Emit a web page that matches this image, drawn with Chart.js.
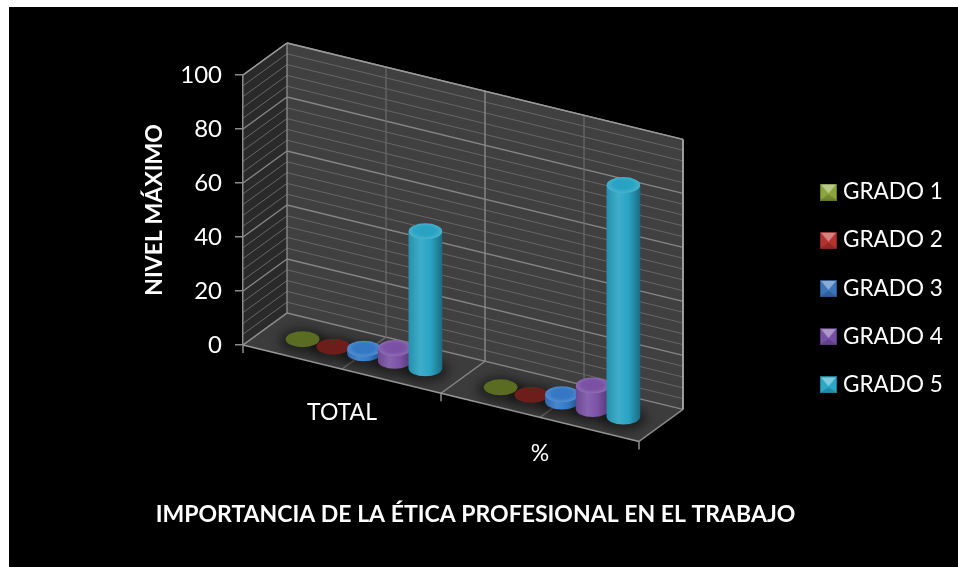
<!DOCTYPE html>
<html>
<head>
<meta charset="utf-8">
<title>Importancia de la ética profesional</title>
<script src="https://cdn.jsdelivr.net/npm/chart.js@4/dist/chart.umd.min.js"></script>
<style>
    html, body { margin: 0; padding: 0; background: #fff; }
    canvas { display: block; }
</style>
</head>
<body>
<canvas id="chart" width="958" height="567"></canvas>
<script>
const categories = ["TOTAL", "%"];
const seriesNames = ["GRADO 1", "GRADO 2", "GRADO 3", "GRADO 4", "GRADO 5"];
const grado1 = [0, 0];
const grado2 = [0, 0];
const grado3 = [2, 3];
const grado4 = [5, 9];
const grado5 = [51, 86];
const seriesValues = [grado1, grado2, grado3, grado4, grado5];
const seriesColors = ["#5a6b22", "#6e1e1a", "#3579c6", "#7b52a6", "#2aa4c4"];
const legendColors = ["#8ba63c", "#b5322e", "#3a74ba", "#7650a4", "#2aa8c8"];
const yTicks = [0, 20, 40, 60, 80, 100];
const xTitle = "IMPORTANCIA DE LA ÉTICA PROFESIONAL EN EL TRABAJO";
const yTitle = "NIVEL MÁXIMO";

// fake 3D: floor runs downhill to the right, walls sit behind by a fixed depth
const slope = 0.2435;
const depthX = 44;
const depthY = -32;
const font = "Lato";

function shade(hex, f) {
    const n = parseInt(hex.slice(1), 16);
    const c = [n >> 16, (n >> 8) & 255, n & 255].map(v => {
        const out = f < 1 ? v * f : v + (255 - v) * (f - 1);
        return Math.round(out);
    });
    return "rgb(" + c.join(",") + ")";
}

// front plane pixel plus depth (0 front, 1 back wall) to screen
function project(chart, x, y, d) {
    const left = chart.chartArea.left;
    return [x + depthX * d, y + slope * (x - left) + depthY * d];
}

function poly(ctx, pts, fill) {
    ctx.beginPath();
    pts.forEach((p, i) => i ? ctx.lineTo(p[0], p[1]) : ctx.moveTo(p[0], p[1]));
    ctx.closePath();
    ctx.fillStyle = fill;
    ctx.fill();
}

function line(ctx, a, b, color, w) {
    ctx.beginPath();
    ctx.moveTo(a[0], a[1]);
    ctx.lineTo(b[0], b[1]);
    ctx.strokeStyle = color;
    ctx.lineWidth = w;
    ctx.stroke();
}

function drawWalls(chart) {
    const ctx = chart.ctx;
    const a = chart.chartArea;
    const y = chart.scales.y;
    const x = chart.scales.x;
    const P = (px, py, d) => project(chart, px, py, d);
    const top = a.top, bot = a.bottom, l = a.left, r = a.right;

    poly(ctx, [P(l, top, 0), P(l, top, 1), P(l, bot, 1), P(l, bot, 0)], "#2a2a2a");
    poly(ctx, [P(l, top, 1), P(r, top, 1), P(r, bot, 1), P(l, bot, 1)], "#404040");
    poly(ctx, [P(l, bot, 0), P(r, bot, 0), P(r, bot, 1), P(l, bot, 1)], "#3c3c3c");

    for (let v = 0; v <= 100; v += 4) {
        const py = y.getPixelForValue(v);
        const major = v % 20 === 0;
        const c = major ? "#858585" : "#666666";
        line(ctx, P(l, py, 0), P(l, py, 1), c, major ? 1.4 : 1);
        line(ctx, P(l, py, 1), P(r, py, 1), c, major ? 1.4 : 1);
    }

    // category borders are bright, category centres dim
    const step = (r - l) / categories.length;
    for (let i = 0; i <= categories.length * 2; i++) {
        const px = l + i * step / 2;
        const major = i % 2 === 0;
        const c = major ? "#888888" : "#6a6a6a";
        line(ctx, P(px, top, 1), P(px, bot, 1), c, major ? 1.4 : 1.2);
        line(ctx, P(px, bot, 0), P(px, bot, 1), c, 1.4);
        if (major) {
            const f = P(px, bot, 0);
            line(ctx, f, [f[0], f[1] + 8], "#999999", 1.4);
        }
    }
    line(ctx, P(l, bot, 0), P(r, bot, 0), "#999999", 1.6);
    line(ctx, P(l, top, 0), P(l, top, 1), "#999999", 1.4);
    line(ctx, P(l, top, 1), P(r, top, 1), "#999999", 1.4);
    line(ctx, P(r, top, 1), P(r, bot, 1), "#aaaaaa", 1.6);

    ctx.fillStyle = "#ffffff";
    ctx.textAlign = "center";
    ctx.textBaseline = "middle";
    ctx.font = "23px " + font;
    categories.forEach((c, i) => {
        ctx.fillText(c, x.getPixelForValue(i), bot + 68 + i * 41);
    });
    ctx.font = "bold 23px " + font;
    ctx.fillText(xTitle, 475.5, 515);
}

function drawFloorShadow(ctx, cx, cy, rx, ry) {
    ctx.save();
    ctx.filter = "blur(5px)";
    ctx.fillStyle = "rgba(0,0,0,0.42)";
    ctx.beginPath();
    ctx.ellipse(cx, cy + 2, rx + 7, ry + 5, 0, 0, Math.PI * 2);
    ctx.fill();
    ctx.restore();
}

function drawCylinder(ctx, cx, baseY, topY, rx, ry, color) {
    const h = baseY - topY;
    if (h < 1) {
        ctx.beginPath();
        ctx.ellipse(cx, baseY, rx, ry, 0, 0, Math.PI * 2);
        ctx.fillStyle = color;
        ctx.fill();
        return;
    }
    const g = ctx.createLinearGradient(cx - rx, 0, cx + rx, 0);
    g.addColorStop(0, shade(color, 0.88));
    g.addColorStop(0.35, shade(color, 1.1));
    g.addColorStop(0.65, color);
    g.addColorStop(1, shade(color, 0.66));
    ctx.beginPath();
    ctx.moveTo(cx - rx, topY);
    ctx.lineTo(cx - rx, baseY);
    ctx.ellipse(cx, baseY, rx, ry, 0, Math.PI, 0, true);
    ctx.lineTo(cx + rx, topY);
    ctx.closePath();
    ctx.fillStyle = g;
    ctx.fill();

    // soft bevel on the lid, brighter towards the rim
    const t = ctx.createRadialGradient(cx, topY - 1, 0, cx, topY - 1, rx);
    t.addColorStop(0, shade(color, 0.98));
    t.addColorStop(0.6, shade(color, 1.0));
    t.addColorStop(1, shade(color, 1.14));
    ctx.save();
    ctx.beginPath();
    ctx.ellipse(cx, topY, rx, ry, 0, 0, Math.PI * 2);
    ctx.clip();
    ctx.translate(0, topY);
    ctx.scale(1, ry / rx);
    ctx.translate(0, -topY);
    ctx.fillStyle = t;
    ctx.fillRect(cx - rx, topY - rx * 1.2, rx * 2, rx * 2.4);
    ctx.restore();
}

const cylinders = {
    id: "cylinders",
    beforeDraw(chart) {
        const ctx = chart.ctx;
        ctx.save();
        ctx.fillStyle = "#000000";
        ctx.fillRect(9, 7, 949, 560);
        drawWalls(chart);
        ctx.restore();
    },
    afterLayout(chart) {
        // put the legend block to the right of the plot
        const lg = chart.legend;
        const pad = lg.options.labels.padding;
        lg.left = 825.25 - pad;
        lg.top = 192 - pad - lg.options.labels.font.size / 2;
        lg.right = lg.left + lg.width;
        lg.bottom = lg.top + lg.height;
    },
    beforeDatasetsDraw(chart) {
        const ctx = chart.ctx;
        ctx.save();
        const metas = seriesValues.map((s, i) => chart.getDatasetMeta(i));
        categories.forEach((c, ci) => {
            const marks = metas.map((m, i) => {
                const el = m.data[ci];
                const rx = el.width * 0.55;
                const p = project(chart, el.x, el.base, 0.5);
                const baseY = p[1] + 1;
                return { cx: p[0], baseY: baseY, topY: baseY - (el.base - el.y), rx: rx, color: seriesColors[i] };
            });
            marks.forEach(m => drawFloorShadow(ctx, m.cx, m.baseY, m.rx, 8));
            marks.forEach(m => drawCylinder(ctx, m.cx, m.baseY, m.topY, m.rx, 8, m.color));
        });
        ctx.restore();
        return false;
    }
};

function legendIcon(color) {
    const c = document.createElement("canvas");
    c.width = 17;
    c.height = 17;
    const g = c.getContext("2d");
    g.fillStyle = shade(color, 0.72);
    g.fillRect(0, 0, 17, 17);
    g.fillStyle = color;
    g.fillRect(1, 1, 15, 15);
    poly(g, [[1, 1], [16, 1], [8.5, 10]], shade(color, 1.4));
    poly(g, [[1, 16], [16, 16], [8.5, 11]], shade(color, 0.82));
    return c;
}

new Chart(document.getElementById("chart"), {
    type: "bar",
    plugins: [cylinders],
    data: {
        labels: categories,
        datasets: seriesNames.map((name, i) => ({
            label: name,
            data: seriesValues[i],
            backgroundColor: seriesColors[i],
            categoryPercentage: 0.775,
            barPercentage: 1
        }))
    },
    options: {
        responsive: false,
        animation: false,
        layout: { padding: { left: 141, right: 319, top: 75, bottom: 222 } },
        scales: {
            x: { display: false },
            y: {
                min: 0,
                max: 100,
                afterFit(scale) { scale.width = 102; },
                afterBuildTicks(scale) { scale.ticks = yTicks.map(v => ({ value: v })); },
                border: { color: "#8c8c8c", width: 1.5 },
                grid: { drawOnChartArea: false, tickLength: 8, color: "#8c8c8c", lineWidth: 1.5 },
                ticks: { color: "#ffffff", padding: 13, font: { family: font, size: 24 } },
                title: {
                    display: true,
                    text: yTitle,
                    color: "#ffffff",
                    padding: 0,
                    font: { family: font, size: 23, weight: "bold" }
                }
            }
        },
        plugins: {
            tooltip: { enabled: false },
            legend: {
                position: "chartArea",
                align: "start",
                labels: {
                    color: "#ffffff",
                    padding: 25.7,
                    boxWidth: 6.5,
                    usePointStyle: true,
                    font: { family: font, size: 22.5 },
                    generateLabels() {
                        return seriesNames.map((name, i) => ({
                            text: name,
                            fontColor: "#ffffff",
                            pointStyle: legendIcon(legendColors[i]),
                            datasetIndex: i
                        }));
                    }
                }
            }
        }
    }
});
</script>
</body>
</html>
